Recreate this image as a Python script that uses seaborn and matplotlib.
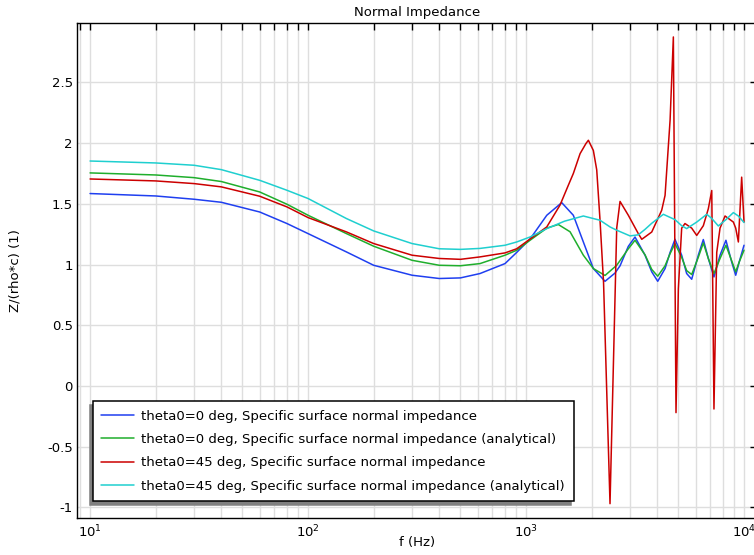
"""Normal impedance vs frequency, COMSOL-style line plot."""

import matplotlib

matplotlib.use("Agg")
import matplotlib.pyplot as plt
import numpy as np
import pandas as pd
import seaborn as sns
from matplotlib.ticker import FormatStrFormatter, LogLocator, NullFormatter

# --- data --------------------------------------------------------------------
labels = [
    "theta0=0 deg, Specific surface normal impedance",
    "theta0=0 deg, Specific surface normal impedance (analytical)",
    "theta0=45 deg, Specific surface normal impedance",
    "theta0=45 deg, Specific surface normal impedance (analytical)",
]
colors = ["#1f3ff0", "#1fae2c", "#cc0000", "#1fcfcf"]

f_blue = [10, 20, 30, 40, 60, 80, 100, 150, 200, 300,
          400, 500, 615, 801, 906, 1043, 1245, 1458, 1648, 1832,
          2036, 2303, 2560, 2700, 2946, 3162, 3515, 3773, 4019, 4343,
          4580, 4823, 5176, 5456, 5754, 6170, 6506, 6859, 7280, 7762,
          8262, 8782, 9160, 9500, 10000]
z_blue = [1.585, 1.565, 1.538, 1.513, 1.433, 1.338, 1.255, 1.104, 0.994, 0.912,
          0.885, 0.890, 0.926, 1.008, 1.100, 1.210, 1.406, 1.510, 1.406, 1.186,
          0.967, 0.862, 0.930, 0.990, 1.150, 1.227, 1.077, 0.940, 0.862, 0.967,
          1.100, 1.208, 1.077, 0.926, 0.879, 1.077, 1.206, 1.050, 0.898, 1.077,
          1.200, 1.020, 0.912, 1.020, 1.159]

f_green = [10, 20, 30, 40, 60, 80, 100, 150, 200, 300,
           400, 500, 615, 801, 906, 1043, 1245, 1406, 1592, 1832,
           2036, 2303, 2606, 2946, 3162, 3515, 3773, 4019, 4343, 4580,
           4823, 5176, 5456, 5754, 6170, 6506, 6859, 7280, 7762, 8262,
           8782, 9160, 9500, 10000]
z_green = [1.755, 1.738, 1.716, 1.684, 1.598, 1.497, 1.406, 1.255, 1.151, 1.035,
           0.994, 0.990, 1.008, 1.077, 1.118, 1.200, 1.300, 1.330, 1.270, 1.077,
           0.967, 0.910, 0.994, 1.130, 1.200, 1.080, 0.960, 0.904, 0.990, 1.090,
           1.173, 1.060, 0.950, 0.918, 1.060, 1.178, 1.050, 0.926, 1.050, 1.159,
           1.030, 0.940, 1.020, 1.118]

f_red = [10, 20, 30, 40, 60, 80, 100, 150, 200, 300,
         400, 500, 615, 801, 906, 1043, 1245, 1432, 1563, 1648,
         1770, 1883, 1932, 2036, 2110, 2185, 2268, 2428, 2606, 2699,
         2946, 3273, 3396, 3773, 4191, 4343, 4580, 4741, 4875, 4998,
         5176, 5359, 5754, 6068, 6506, 6859, 7112, 7280, 7496, 7762,
         8185, 8935, 9160, 9420, 9755, 10000]
z_red = [1.705, 1.689, 1.667, 1.640, 1.563, 1.475, 1.387, 1.269, 1.173, 1.077,
         1.050, 1.043, 1.063, 1.096, 1.130, 1.210, 1.310, 1.490, 1.653, 1.750,
         1.914, 1.997, 2.024, 1.940, 1.780, 1.365, 0.850, -0.970, 1.300, 1.520,
         1.406, 1.255, 1.208, 1.268, 1.447, 1.570, 2.190, 2.875, -0.220, 0.800,
         1.300, 1.338, 1.300, 1.240, 1.320, 1.460, 1.610, -0.190, 1.100, 1.300,
         1.400, 1.350, 1.300, 1.186, 1.720, 1.350]

f_cyan = [10, 20, 30, 40, 60, 80, 100, 150, 200, 300,
          400, 500, 615, 801, 906, 1043, 1245, 1500, 1832, 2185,
          2428, 2606, 3000, 3273, 3515, 3773, 4265, 4823, 5176, 5456,
          6068, 6745, 7112, 7623, 8262, 8935, 9420, 10000]
z_cyan = [1.853, 1.837, 1.818, 1.782, 1.694, 1.612, 1.544, 1.379, 1.277, 1.173,
          1.130, 1.125, 1.133, 1.159, 1.186, 1.227, 1.296, 1.357, 1.400, 1.365,
          1.310, 1.283, 1.236, 1.245, 1.290, 1.340, 1.414, 1.370, 1.320, 1.296,
          1.350, 1.414, 1.380, 1.318, 1.370, 1.428, 1.400, 1.346]

y_ticks = [-1, -0.5, 0, 0.5, 1, 1.5, 2, 2.5]

FS = 9.5


def set_theme():
    sns.set_theme(style="white", context="notebook")
    plt.rcParams.update(
        {
            "font.family": ["DejaVu Sans"],
            "font.size": FS,
            "axes.unicode_minus": False,
            "axes.edgecolor": "black",
            "axes.linewidth": 1.0,
            "text.color": "black",
            "axes.labelcolor": "black",
            "xtick.color": "black",
            "ytick.color": "black",
        }
    )


set_theme()

frames = []
for name, f, z in zip(labels, [f_blue, f_green, f_red, f_cyan],
                      [z_blue, z_green, z_red, z_cyan]):
    frames.append(pd.DataFrame({"f": f, "Z": z, "series": name}))
df = pd.concat(frames, ignore_index=True)

fig = plt.figure(figsize=(7.54, 5.55), dpi=100)
ax = fig.add_axes([77 / 754, 37 / 555, 680 / 754, 495 / 555])

sns.lineplot(
    data=df,
    x="f",
    y="Z",
    hue="series",
    hue_order=labels,
    palette=dict(zip(labels, colors)),
    estimator=None,
    sort=False,
    linewidth=1.1,
    ax=ax,
)

ax.set_xscale("log")
ax.set_xlim(8.71, 11470)
ax.set_ylim(-1.088, 2.99)
ax.xaxis.set_major_locator(LogLocator(base=10))
ax.xaxis.set_minor_locator(LogLocator(base=10, subs=np.arange(2, 10)))
ax.xaxis.set_minor_formatter(NullFormatter())
ax.set_yticks(y_ticks)
ax.yaxis.set_major_formatter(FormatStrFormatter("%g"))

ax.set_axisbelow(True)
ax.grid(True, which="both", axis="x", color="#dedede", linewidth=1)
ax.grid(True, which="major", axis="y", color="#dedede", linewidth=1)
ax.tick_params(which="both", direction="in", top=True, right=True,
               length=5, width=1, labelsize=FS, pad=3)
ax.tick_params(axis="x", which="both", pad=4)

ax.set_title("Normal Impedance", fontsize=FS, pad=5)
ax.set_xlabel("f (Hz)", fontsize=FS)
ax.set_ylabel("Z/(rho*c) (1)", fontsize=FS)
ax.xaxis.set_label_coords(0.5, -0.036)
ax.yaxis.set_label_coords(-0.081, 0.5)

handles, names = ax.get_legend_handles_labels()
ax.legend(
    handles,
    names,
    loc="lower left",
    bbox_to_anchor=(0.023, 0.034),
    borderaxespad=0,
    fontsize=FS,
    frameon=True,
    fancybox=False,
    edgecolor="black",
    framealpha=1,
    shadow={"ox": -2, "oy": -2.6, "facecolor": "#808080",
            "edgecolor": "#808080", "alpha": 1},
    handlelength=2.5,
    handletextpad=0.55,
    labelspacing=0.78,
    borderpad=0.65,
)
ax.get_legend().get_frame().set_linewidth(1.1)

fig.savefig("out.png", dpi=100)
